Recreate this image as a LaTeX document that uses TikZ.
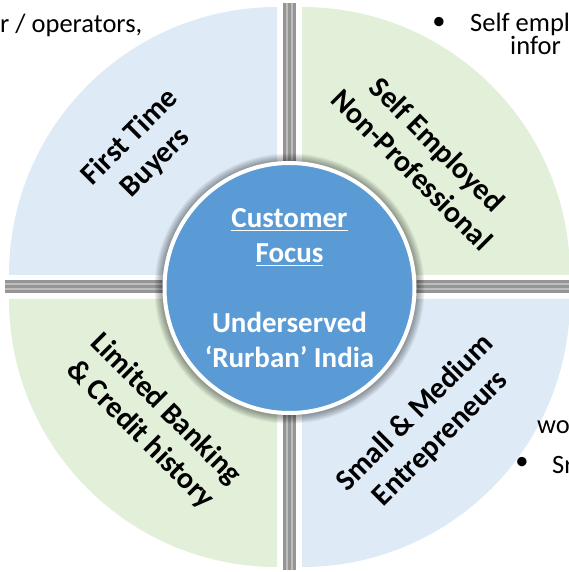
\documentclass[tikz,border=0pt]{standalone}
\usepackage{fontspec}
\setmainfont{Carlito}
\newcommand{\subrayar}[1]{\setbox0\hbox{#1}\rlap{\raisebox{-4pt}{\rule{\wd0}{1.6pt}}}\box0}
\definecolor{azulclaro}{HTML}{DEEBF7}
\definecolor{verdeclaro}{HTML}{E2F0D9}
\definecolor{azul}{HTML}{5B9BD5}
\definecolor{barra}{HTML}{959595}
\definecolor{barraclara}{HTML}{BDBDBD}

\begin{document}
\begin{tikzpicture}[x=1pt, y=1pt,
    cuadrante/.style={font=\fontsize{30}{36}\selectfont\bfseries, align=center, text=black},
    centro/.style={circle, fill=azul, draw=white, line width=4pt, minimum size=250pt,
      font=\fontsize{29}{35}\selectfont\bfseries, align=center, text=white},
    nota/.style={font=\fontsize{26.5}{30}\selectfont, anchor=base west, inner sep=0pt}]

    \useasboundingbox (-289,-285) rectangle (280,287);
    \clip (-289,-285) rectangle (280,287);

    % Cuadrantes
    \fill[azulclaro] (-12,12) -- (-12,280) arc (90:180:268) -- cycle;
    \fill[verdeclaro] (13,12) -- (281,12) arc (0:90:268) -- cycle;
    \fill[verdeclaro] (-12,-12) -- (-280,-12) arc (180:270:268) -- cycle;
    \fill[azulclaro] (13,-12) -- (13,-280) arc (270:360:268) -- cycle;

    % Barras
    \fill[barra] (-6.5,-283) rectangle (6.5,284);
    \draw[barraclara, line width=2pt] (-2.5,-283) -- (-2.5,284);
    \draw[barraclara, line width=2pt] (2.5,-283) -- (2.5,284);
    \fill[barra] (-284,-6.5) rectangle (290,6.5);
    \draw[barraclara, line width=2pt] (-284,-2.5) -- (290,-2.5);
    \draw[barraclara, line width=2pt] (-284,2.5) -- (290,2.5);

    % Sombra y circulo central
    \foreach \i in {1,...,8}
      \fill[black, opacity=0.05] (0.5,-1.5) circle (127+\i);
    \node[centro] (foco) at (0.5,-1) {\subrayar{Customer}\\\subrayar{Focus}\\[35pt]Underserved\\‘Rurban’ India};

    % Etiquetas de los cuadrantes
    \node[cuadrante, rotate=45] (compradores) at (-146,137) {First Time\\Buyers};
    \node[cuadrante, rotate=-45] (autoempleo) at (136,130) {Self Employed\\Non-Professional};
    \node[cuadrante, rotate=-45] (bancario) at (-136,-135) {Limited Banking\\\& Credit history};
    \node[cuadrante, rotate=45] (empresarios) at (139,-139) {Small \& Medium\\Entrepreneurs};

    % Textos cortados en los bordes
    \node[nota] (operadores) at (-289,254) {r / operators,};
    \node[nota, anchor=center] (vineta1) at (150,264) {\textbullet};
    \node[nota] (empleo) at (181,255) {Self empl};
    \node[nota] (informal) at (221,232) {infor};
    \node[nota] (trabajo) at (248,-146) {wo};
    \node[nota, anchor=center] (vineta2) at (233,-176) {\textbullet};
    \node[nota] (pequenos) at (263,-186) {Sr};

\end{tikzpicture}
\end{document}
